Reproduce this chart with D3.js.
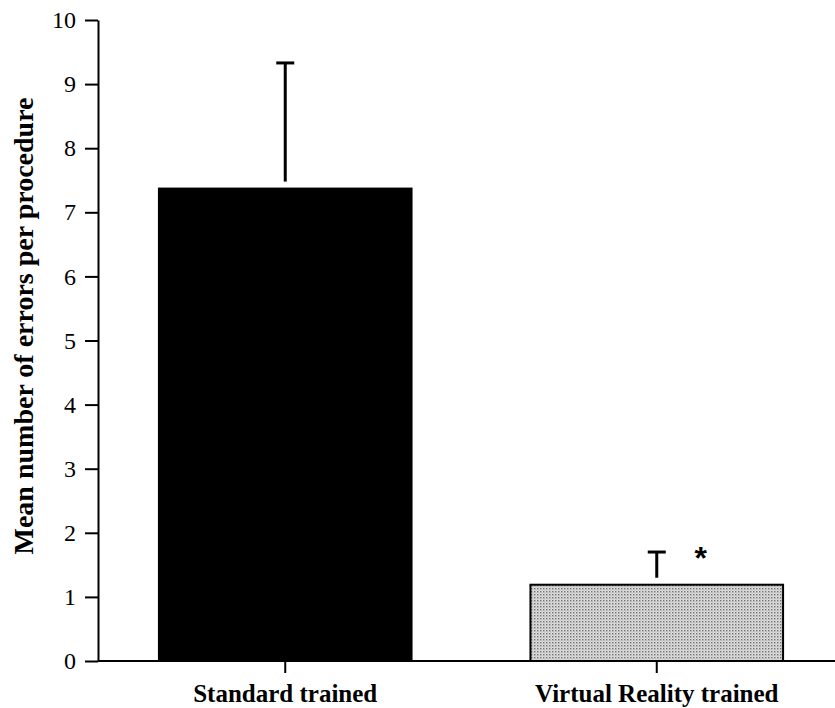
<!DOCTYPE html>
<html>
<head>
<meta charset="utf-8">
<script src="https://cdn.jsdelivr.net/npm/d3@7"></script>
<style>
  body { margin: 0; background: #fff; }
  svg { display: block; }
</style>
</head>
<body>
<svg class="bar-chart"></svg>
<script>
const categories = ["Standard trained", "Virtual Reality trained"];
const means = [7.37, 1.19];
const errors = [1.96, 0.51];
const yTicks = [0, 1, 2, 3, 4, 5, 6, 7, 8, 9, 10];
const yLabel = "Mean number of errors per procedure";
const significant = [false, true];

const width = 835, height = 708;
const margin = {top: 20, right: 0, bottom: 47, left: 98};
const serif = "'Liberation Serif', 'Times New Roman', serif";

const svg = d3.select(".bar-chart")
    .attr("width", width)
    .attr("height", height);

// stipple fill for the second bar
const pat = svg.append("defs").append("pattern")
    .attr("id", "dots")
    .attr("width", 3).attr("height", 3)
    .attr("patternUnits", "userSpaceOnUse");
pat.append("rect").attr("width", 3).attr("height", 3).attr("fill", "#e2e2e2");
pat.append("rect").attr("x", 0).attr("y", 0).attr("width", 1.4).attr("height", 1.4).attr("fill", "#6e6e6e");
pat.append("rect").attr("x", 1.5).attr("y", 1.5).attr("width", 1).attr("height", 1).attr("fill", "#999");

const y = d3.scaleLinear()
    .domain([0, 10])
    .range([height - margin.bottom, margin.top]);

const x = d3.scaleBand()
    .domain(categories)
    .range([margin.left, 844])
    .paddingInner(0.32)
    .paddingOuter(0.164);

const data = categories.map((c, i) => ({cat: c, mean: means[i], err: errors[i], sig: significant[i]}));

// bars
svg.append("g")
    .selectAll("rect")
    .data(data)
    .enter().append("rect")
        .attr("x", d => x(d.cat))
        .attr("y", d => y(d.mean))
        .attr("width", x.bandwidth())
        .attr("height", d => y(0) - y(d.mean))
        .attr("fill", (d, i) => i === 0 ? "#000" : "url(#dots)")
        .attr("stroke", "#000")
        .attr("stroke-width", 2);

// error bars (upper only)
const eb = svg.append("g")
    .attr("stroke", "#000")
    .attr("stroke-width", 3)
    .selectAll("g")
    .data(data)
    .enter().append("g");

eb.append("line")
    .attr("x1", d => x(d.cat) + x.bandwidth() / 2)
    .attr("x2", d => x(d.cat) + x.bandwidth() / 2)
    .attr("y1", d => y(d.mean) - 7)
    .attr("y2", d => y(d.mean + d.err));

eb.append("line")
    .attr("x1", d => x(d.cat) + x.bandwidth() / 2 - 9)
    .attr("x2", d => x(d.cat) + x.bandwidth() / 2 + 9)
    .attr("y1", d => y(d.mean + d.err))
    .attr("y2", d => y(d.mean + d.err));

// significance marker
svg.append("g")
    .selectAll("text")
    .data(data.filter(d => d.sig))
    .enter().append("text")
        .attr("x", d => x(d.cat) + x.bandwidth() / 2 + 44)
        .attr("y", d => y(d.mean + d.err) + 17)
        .attr("text-anchor", "middle")
        .style("font", `bold 32px 'Liberation Sans', Arial, sans-serif`)
        .text("*");

// y axis
const yAxis = svg.append("g")
    .attr("transform", `translate(${margin.left},0)`)
    .call(d3.axisLeft(y).tickValues(yTicks).tickSize(13).tickPadding(9).tickSizeOuter(0));
yAxis.select(".domain").attr("stroke-width", 2);
yAxis.selectAll(".tick line").attr("stroke-width", 2);
yAxis.selectAll(".tick text")
    .style("font", `24px ${serif}`)
    .attr("fill", "#000");

// x axis
const xAxis = svg.append("g")
    .attr("transform", `translate(0,${y(0)})`)
    .call(d3.axisBottom(x).tickSize(12).tickPadding(11).tickSizeOuter(0));
xAxis.select(".domain")
    .attr("d", `M${margin.left},0H${width}`)
    .attr("stroke-width", 2);
xAxis.selectAll(".tick line").attr("stroke-width", 2);
xAxis.selectAll(".tick text")
    .style("font", `bold 25px ${serif}`)
    .attr("fill", "#000");

// y label
svg.append("text")
    .attr("transform", `translate(33,326) rotate(-90)`)
    .attr("text-anchor", "middle")
    .style("font", `bold 28px ${serif}`)
    .text(yLabel);
</script>
</body>
</html>
